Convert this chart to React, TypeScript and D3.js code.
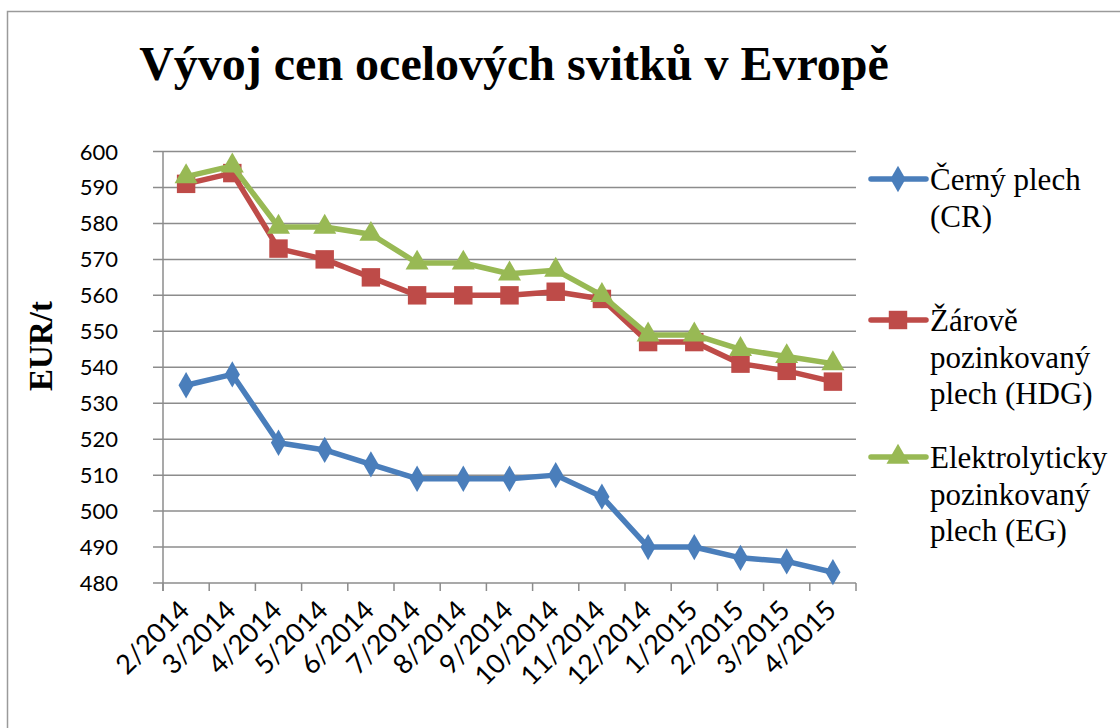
import React, { useRef, useEffect } from 'react';
import * as d3 from 'd3';

const months: string[] = ['2/2014', '3/2014', '4/2014', '5/2014', '6/2014', '7/2014', '8/2014', '9/2014', '10/2014', '11/2014', '12/2014', '1/2015', '2/2015', '3/2015', '4/2015'];
const cernyPlech: number[] = [535, 538, 519, 517, 513, 509, 509, 509, 510, 504, 490, 490, 487, 486, 483];
const zaroveZinek: number[] = [591, 594, 573, 570, 565, 560, 560, 560, 561, 559, 547, 547, 541, 539, 536];
const elektroZinek: number[] = [593, 596, 579, 579, 577, 569, 569, 566, 567, 560, 549, 549, 545, 543, 541];
const yTicks: number[] = [480, 490, 500, 510, 520, 530, 540, 550, 560, 570, 580, 590, 600];

interface ISeries {
    lines: string[];
    values: number[];
    color: string;
    symbol: d3.SymbolType;
    size: number;
}

const series: ISeries[] = [
    { lines: ['Černý plech', '(CR)'], values: cernyPlech, color: '#4a7ebb', symbol: d3.symbolDiamond, size: 200 },
    { lines: ['Žárově', 'pozinkovaný', 'plech (HDG)'], values: zaroveZinek, color: '#be4b48', symbol: d3.symbolSquare, size: 340 },
    { lines: ['Elektrolyticky', 'pozinkovaný', 'plech (EG)'], values: elektroZinek, color: '#98b954', symbol: d3.symbolTriangle, size: 230 },
];

const legendY: number[] = [179, 320, 457];

function App() {
    const ref = useRef<SVGSVGElement>(null);
    const width = 1120;
    const height = 728;
    const left = 163, right = 856, top = 151.5, bottom = 583;

    useEffect(() => {
        if (!ref.current) return;
        const svg = d3.select(ref.current);
        svg.selectAll('*').remove();

        const x = d3.scaleBand<string>().domain(months).range([left, right]);
        const y = d3.scaleLinear().domain([480, 600]).range([bottom, top]);

        // frame
        svg.append('path')
            .attr('d', `M7.5,${height} V11.5 H${width}`)
            .attr('fill', 'none')
            .attr('stroke', '#9a9a9a')
            .attr('stroke-width', 1.5);

        svg.append('text')
            .attr('x', 514)
            .attr('y', 80)
            .attr('text-anchor', 'middle')
            .attr('font-family', '"Liberation Serif", "Times New Roman", serif')
            .attr('font-weight', 'bold')
            .attr('font-size', 48)
            .text('Vývoj cen ocelových svitků v Evropě');

        // gridlines
        svg.append('g')
            .selectAll('line')
            .data(yTicks)
            .join('line')
                .attr('x1', left - 10)
                .attr('x2', right)
                .attr('y1', d => y(d))
                .attr('y2', d => y(d))
                .attr('stroke', '#8c8c8c')
                .attr('stroke-width', 1.5);

        svg.append('line')
            .attr('x1', left).attr('x2', left)
            .attr('y1', top).attr('y2', bottom + 8)
            .attr('stroke', '#8c8c8c').attr('stroke-width', 1.5);

        svg.append('g')
            .selectAll('line')
            .data(d3.range(months.length + 1))
            .join('line')
                .attr('x1', i => left + i * x.step())
                .attr('x2', i => left + i * x.step())
                .attr('y1', bottom)
                .attr('y2', bottom + 8)
                .attr('stroke', '#8c8c8c')
                .attr('stroke-width', 1.5);

        svg.append('g')
                .attr('font-family', 'Lato, sans-serif')
                .attr('font-size', 22)
                .attr('text-anchor', 'end')
            .selectAll('text')
            .data(yTicks)
            .join('text')
                .attr('x', 118)
                .attr('y', d => y(d) + 8)
                .text(d => d);

        svg.append('g')
                .attr('font-family', 'Lato, sans-serif')
                .attr('font-size', 27)
                .attr('text-anchor', 'end')
            .selectAll('text')
            .data(months)
            .join('text')
                .attr('transform', d => `translate(${(x(d) ?? 0) + x.bandwidth() / 2 + 5},${bottom + 29}) rotate(-45)`)
                .text(d => d);

        svg.append('text')
            .attr('transform', 'translate(52,346) rotate(-90)')
            .attr('text-anchor', 'middle')
            .attr('font-family', '"Liberation Serif", "Times New Roman", serif')
            .attr('font-weight', 'bold')
            .attr('font-size', 33)
            .text('EUR/t');

        const line = d3.line<number>()
            .x((_, i) => (x(months[i]) ?? 0) + x.bandwidth() / 2)
            .y(d => y(d));

        series.forEach((s, k) => {
            const g = svg.append('g');
            g.append('path')
                .attr('d', line(s.values))
                .attr('fill', 'none')
                .attr('stroke', s.color)
                .attr('stroke-width', 5.5)
                .attr('stroke-linejoin', 'round');
            const sym = d3.symbol().type(s.symbol).size(s.size);
            g.selectAll('path.m')
                .data(s.values)
                .join('path')
                    .attr('class', 'm')
                    .attr('d', sym)
                    .attr('fill', s.color)
                    .attr('transform', (d, i) => `translate(${(x(months[i]) ?? 0) + x.bandwidth() / 2},${y(d)})`);

            const ly = legendY[k];
            const lg = svg.append('g');
            lg.append('line')
                .attr('x1', 871).attr('x2', 926)
                .attr('y1', ly).attr('y2', ly)
                .attr('stroke', s.color)
                .attr('stroke-width', 5.5)
                .attr('stroke-linecap', 'round');
            lg.append('path')
                .attr('d', sym)
                .attr('fill', s.color)
                .attr('transform', `translate(898,${ly})`);
            lg.append('text')
                .attr('font-family', '"Liberation Serif", "Times New Roman", serif')
                .attr('font-size', 31)
                .selectAll('tspan')
                .data(s.lines)
                .join('tspan')
                    .attr('x', 930)
                    .attr('y', (_, i) => ly + 11 + i * 36.5)
                    .text(d => d);
        });
    }, []);

    return (
        <svg
            width={width}
            height={height}
            ref={ref}
            style={{ display: 'block', position: 'absolute', left: 0, top: 0, background: '#fff' }}
        />
    );
}

export default App;
